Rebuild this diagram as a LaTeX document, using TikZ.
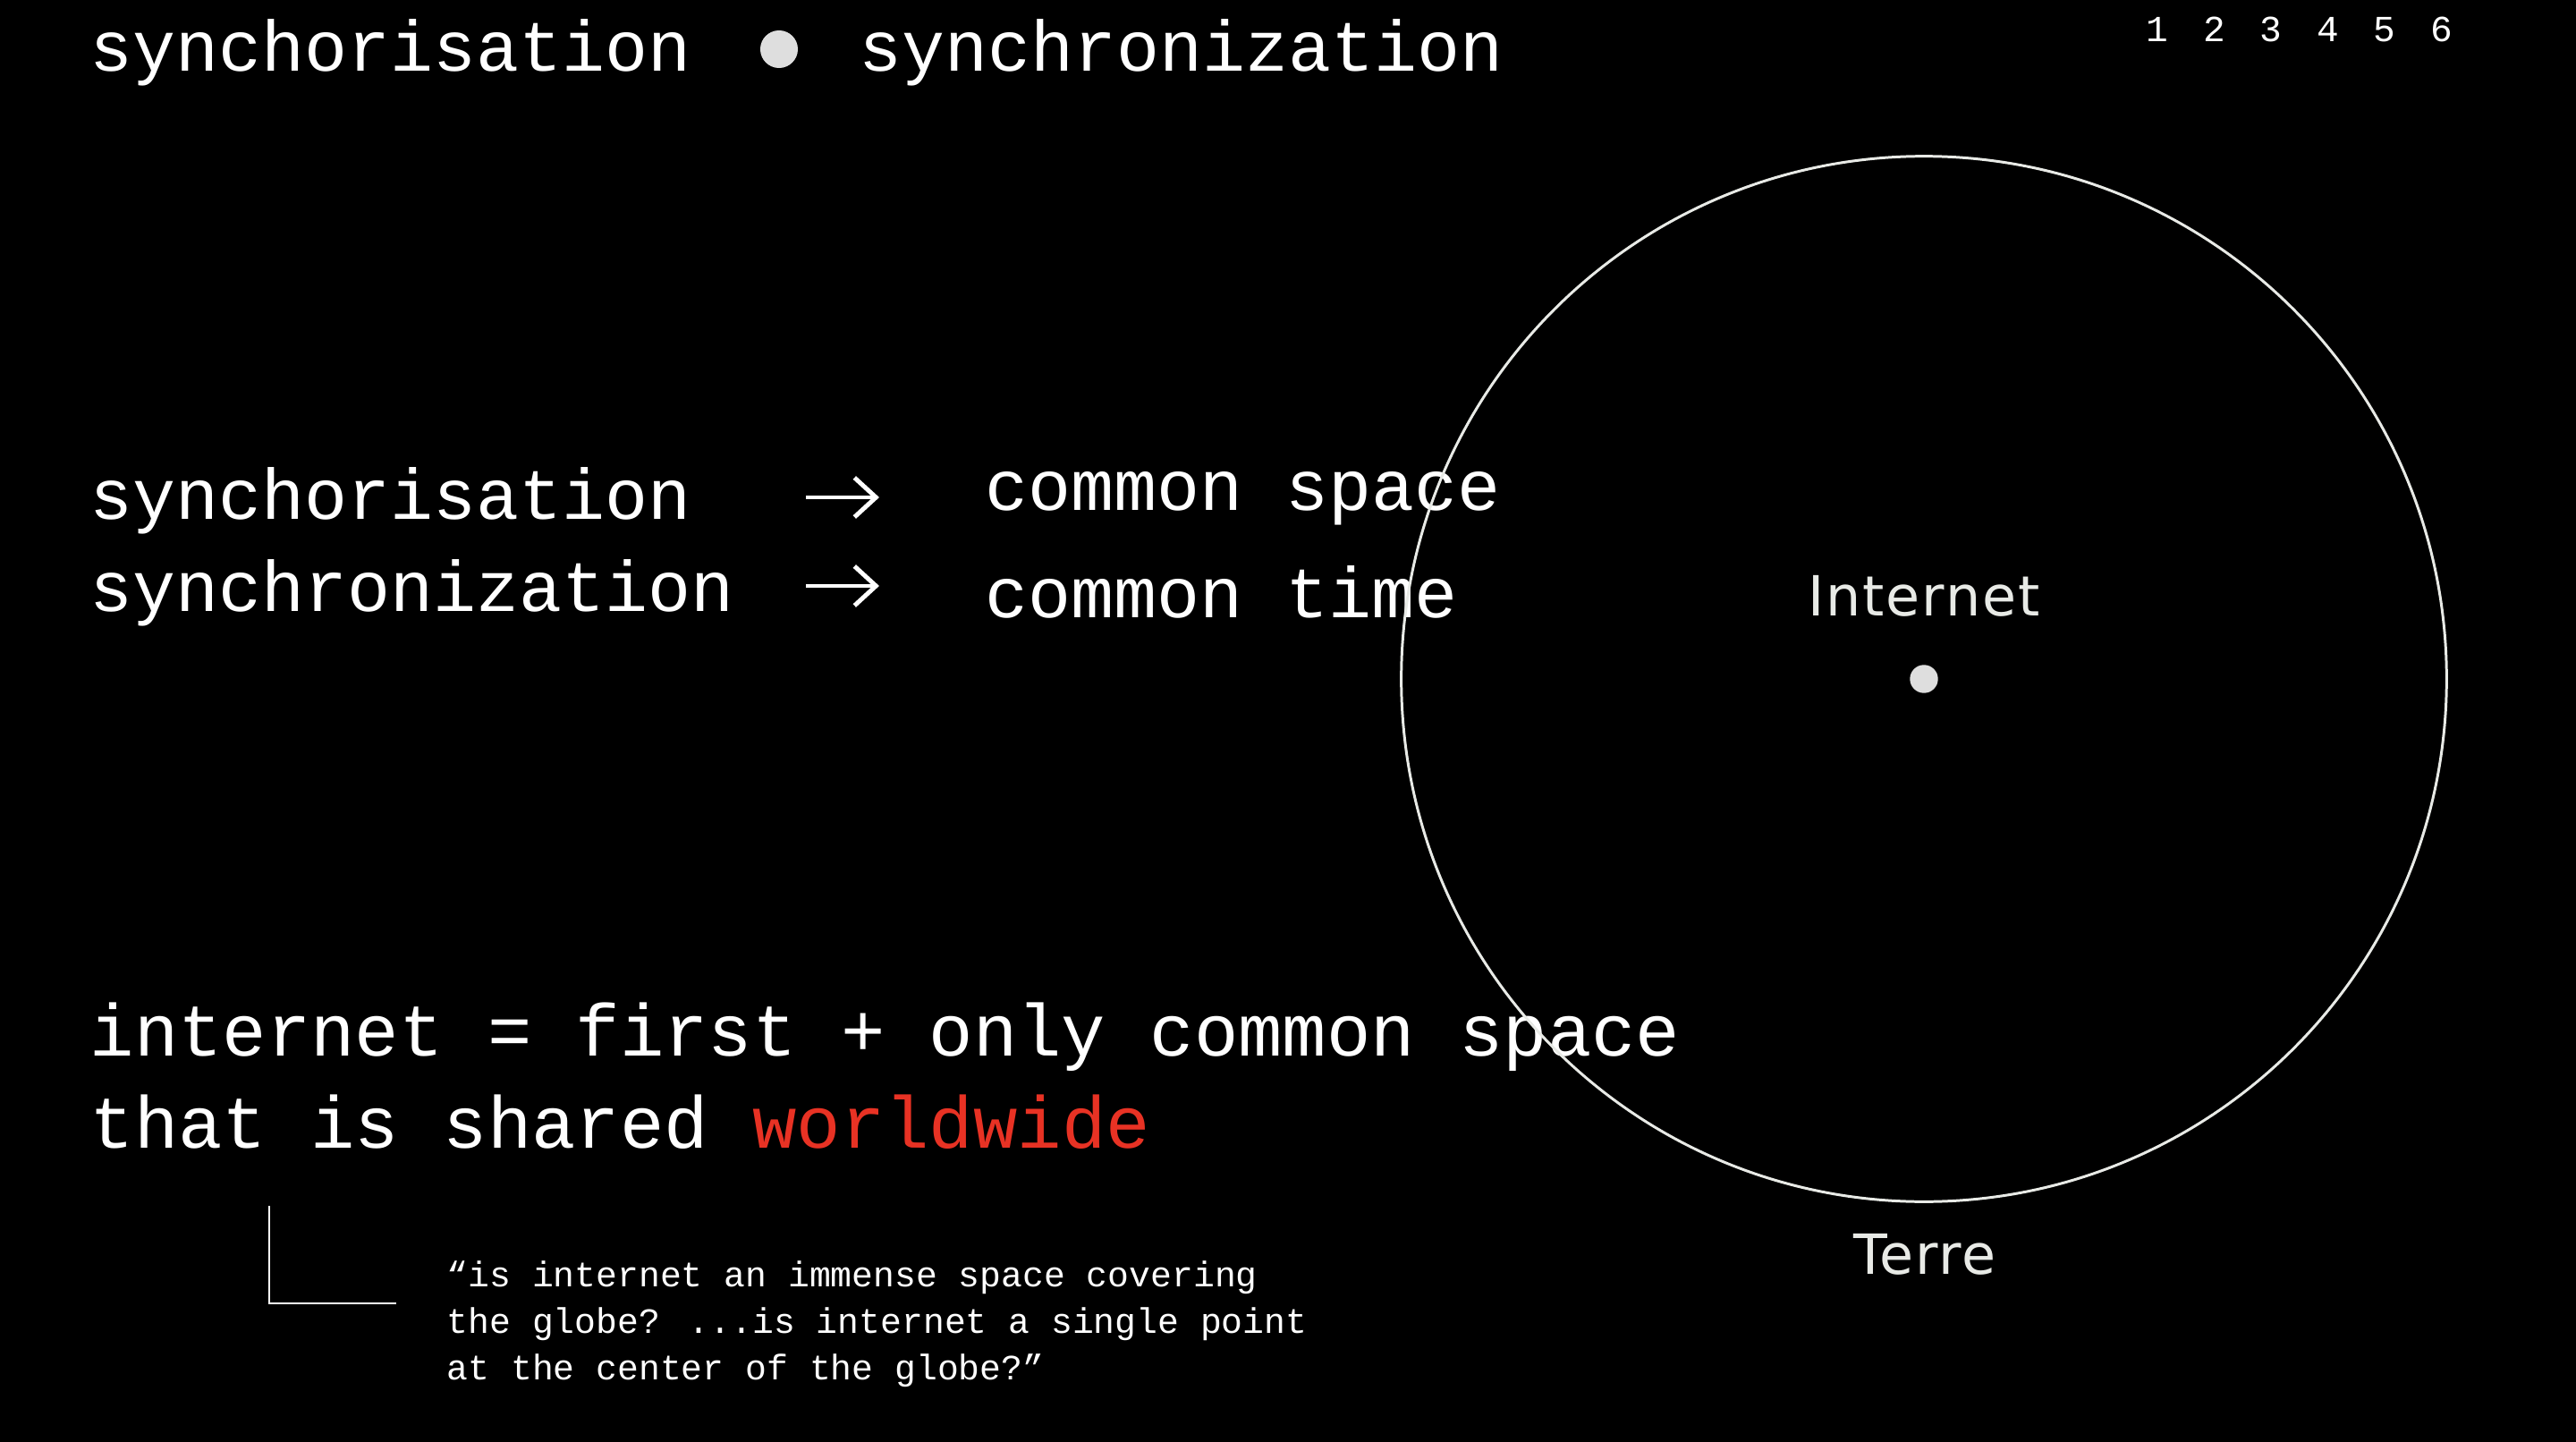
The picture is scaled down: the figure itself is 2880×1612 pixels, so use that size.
\documentclass[tikz,border=0pt]{standalone}
\usepackage{fontspec}
\setmainfont{Liberation Mono}
\newfontfamily\globefont[LetterSpace=3]{DejaVu Sans}
\usetikzlibrary{arrows.meta}

\definecolor{worldred}{RGB}{232,50,36}
\definecolor{dotgrey}{RGB}{222,222,222}
\definecolor{globegrey}{RGB}{232,234,230}

\tikzset{
    bigtext/.style={anchor=base west, inner sep=0pt, text=white, font=\fontsize{22.75}{29}\selectfont},
    claimtext/.style={anchor=base west, inner sep=0pt, text=white, font=\fontsize{23.4}{29}\selectfont},
    quotetext/.style={anchor=base west, inner sep=0pt, text=white, font=\fontsize{11.3}{14.8}\selectfont},
    globelabel/.style={anchor=base, inner sep=0pt, text=globegrey, font=\globefont\fontsize{17.6}{22}\selectfont},
    pagenum/.style={anchor=base, inner sep=0pt, text=white, font=\fontsize{11.7}{14}\selectfont},
    syncarrow/.style={white, line width=1.4pt, -{Straight Barb[length=0.24cm, width=0.44cm]}}
}

\begin{document}
\begin{tikzpicture}[x=0.01cm, y=-0.01cm]

    % Background and page size
    \fill[black] (0,0) rectangle (2880,1612);
    \useasboundingbox (0,0) rectangle (2880,1612);

    % Title line
    \node[bigtext] (titleA) at (100,80) {synchorisation};
    \node[circle, fill=dotgrey, inner sep=0pt, minimum size=0.42cm] (titledot) at (871,55) {};
    \node[bigtext] (titleB) at (960,80) {synchronization};

    % Page numbers
    \node[pagenum] (pageA) at (2412,47) {1};
    \node[pagenum] (pageB) at (2476,47) {2};
    \node[pagenum] (pageC) at (2539,47) {3};
    \node[pagenum] (pageD) at (2603,47) {4};
    \node[pagenum] (pageE) at (2666,47) {5};
    \node[pagenum] (pageF) at (2730,47) {6};

    % The two meanings
    \node[bigtext] (syncA) at (100,580) {synchorisation};
    \node[bigtext] (syncB) at (100,683) {synchronization};
    \node[bigtext] (space) at (1101,570) {common space};
    \node[bigtext] (time) at (1101,690) {common time};

    \coordinate (arrowAstart) at (901,556);
    \coordinate (arrowAend) at (983,556);
    \coordinate (arrowBstart) at (901,655);
    \coordinate (arrowBend) at (983,655);
    \draw[syncarrow] (arrowAstart) -- (arrowAend);
    \draw[syncarrow] (arrowBstart) -- (arrowBend);

    % Statement
    \node[claimtext] (claimA) at (100,1180) {internet = first + only common space};
    \node[claimtext] (claimB) at (100,1283) {that is shared \textcolor{worldred}{worldwide}};

    % Quote with its corner mark
    \coordinate (cornerTop) at (301,1348);
    \coordinate (cornerEnd) at (443,1457);
    \draw[white, line width=0.7pt] (cornerTop) |- (cornerEnd);
    \node[quotetext] (quoteA) at (499,1438) {“is internet an immense space covering};
    \node[quotetext] (quoteB) at (499,1490) {the globe? ...is internet a single point};
    \node[quotetext] (quoteC) at (499,1542) {at the center of the globe?”};

    % The globe
    \node[circle, draw=globegrey, line width=0.85pt, inner sep=0pt, minimum size=11.68cm] (globe) at (2151,759) {};
    \node[circle, fill=dotgrey, inner sep=0pt, minimum size=0.314cm] (netdot) at (globe.center) {};
    \node[globelabel] (internet) at (2151,688) {Internet};
    \node[globelabel] (terre) at (2152,1424) {Terre};

\end{tikzpicture}
\end{document}
